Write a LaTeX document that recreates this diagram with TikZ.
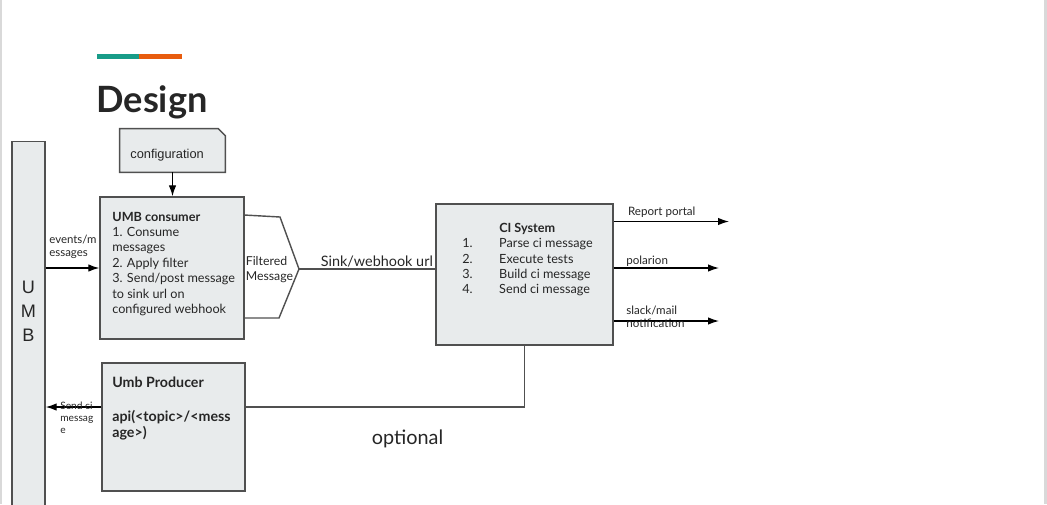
\documentclass[tikz,border=0pt]{standalone}
\usepackage{fontspec}
\setmainfont{Lato}
\newfontfamily\arialfont{Liberation Sans}
\usetikzlibrary{positioning, arrows.meta}
\definecolor{boxfill}{RGB}{232,235,236}
\definecolor{boxline}{RGB}{80,80,80}
\definecolor{accentteal}{RGB}{24,156,136}
\definecolor{accentorange}{RGB}{232,92,14}
\tikzset{
txt/.style={inner sep=0pt, align=left, text=black!85}, % plain text, no frame
box/.style={draw=boxline, fill=boxfill, line width=0.8pt, inner sep=0pt}, % grey blocks
edge/.style={draw=boxline, line width=0.8pt}, % plain connectors
}

\begin{document}
\begin{tikzpicture}[x=0.02cm, y=-0.02cm, >={Latex[length=2.2mm,width=1.5mm]}]
\useasboundingbox (0,0) rectangle (1047,504);
% slide edges
\draw[black!15, line width=1.2pt] (1,0) -- (1,504);
\draw[black!15, line width=1.2pt] (1045.5,0) -- (1045.5,504);

% title
\fill[accentteal] (97,54) rectangle (139,59);
\fill[accentorange] (139,54) rectangle (182,59);
\node[txt, anchor=base west, font=\bfseries\fontsize{20.6}{24}\selectfont] (title) at (96,112.7) {Design};

% UMB bus
\node[box, anchor=north, minimum width=0.66cm, minimum height=8cm] (umb) at (28.5,141) {};
\node[txt, align=center, anchor=north, font=\arialfont\fontsize{10.3}{13.7}\selectfont] (umbtext) at (28.5,281) {U\\M\\B};

% configuration
\node[minimum width=2.1cm, minimum height=0.86cm, inner sep=0pt] (config) at (172.5,150.5) {};
\filldraw[box] (config.south west) |- ([xshift=-0.14cm]config.north east) -- ([yshift=-0.14cm]config.north east) -- (config.south east) -- cycle;
\node[txt, anchor=base west, font=\arialfont\fontsize{7.3}{9}\selectfont] (configtext) at (130,158) {configuration};

% consumer
\node[box, minimum width=2.88cm, minimum height=2.84cm] (consumer) at (172,268) {};
\node[txt, anchor=north west, font=\fontsize{7.2}{8.8}\selectfont] (consumertext) at (112,211.5) {\textbf{UMB consumer}\\1. Consume\\messages\\2. Apply filter\\3. Send/post message\\to sink url on\\configured webhook};

\path[->, line width=0.7pt] (config.south) edge (config.south |- consumer.north);
\draw[->, line width=0.7pt] (umb.east |- consumer.west) -- (consumer.west);
\node[txt, anchor=north west, font=\fontsize{6.5}{7}\selectfont] (events) at (49,235) {events/m\\essages};

% filtered message
\coordinate (tip) at (299,269);
\draw[edge] (244,215) -- (280,217) -- (tip) -- (279,318) -- (244,318);
\node[txt, anchor=north west, font=\fontsize{7}{8.5}\selectfont] (filtered) at (245.5,256) {Filtered\\Message};

% CI system
\node[box, minimum width=3.54cm, minimum height=2.82cm] (ci) at (524.5,274.5) {};
\node[txt, anchor=north west, font=\fontsize{7.2}{8.7}\selectfont] (citext) at (462,223) {\hspace*{21pt}\textbf{CI System}\\\makebox[21pt][l]{1.}Parse ci message\\\makebox[21pt][l]{2.}Execute tests\\\makebox[21pt][l]{3.}Build ci message\\\makebox[21pt][l]{4.}Send ci message};

\draw[edge] (tip) -- (tip -| ci.west);
\node[txt, anchor=base west, font=\fontsize{8.2}{10}\selectfont] (sink) at (320.5,266) {Sink/webhook url};

% outputs
\coordinate (rp) at (729,221.5);
\coordinate (pol) at (719,268);
\coordinate (slack) at (719,321);
\draw[->, line width=0.7pt] (ci.east |- rp) -- (rp);
\draw[->, line width=0.7pt] (ci.east |- pol) -- (pol);
\draw[->, line width=0.7pt] (ci.east |- slack) -- (slack);
\node[txt, anchor=base west, font=\fontsize{6.6}{7.2}\selectfont] (rptext) at (627.7,215) {Report portal};
\node[txt, anchor=base west, font=\fontsize{6.6}{7.2}\selectfont] (poltext) at (626,264) {polarion};
\node[txt, anchor=north west, font=\fontsize{6.6}{7.2}\selectfont] (slacktext) at (626,305.5) {slack/mail\\notification};

% producer
\node[box, minimum width=2.86cm, minimum height=2.56cm] (producer) at (173.5,427) {};
\node[txt, anchor=north west, font=\bfseries\fontsize{8.1}{9.3}\selectfont] (producertext) at (112,376.5) {Umb Producer\\[10pt]api(<topic>/<mess\\age>)};

\coordinate (bend) at (524.5,407);
\draw[edge] (ci.south) -- (bend) -- (bend -| producer.east);
\draw[->, line width=0.7pt] (bend -| producer.west) -- (bend -| umb.east);
\node[txt, anchor=north west, font=\fontsize{5.8}{6.8}\selectfont] (sendtext) at (60,402) {Send ci\\messag\\e};

\node[txt, anchor=base west, font=\fontsize{11.3}{13}\selectfont] (optional) at (371.5,444.3) {optional};
\end{tikzpicture}
\end{document}
